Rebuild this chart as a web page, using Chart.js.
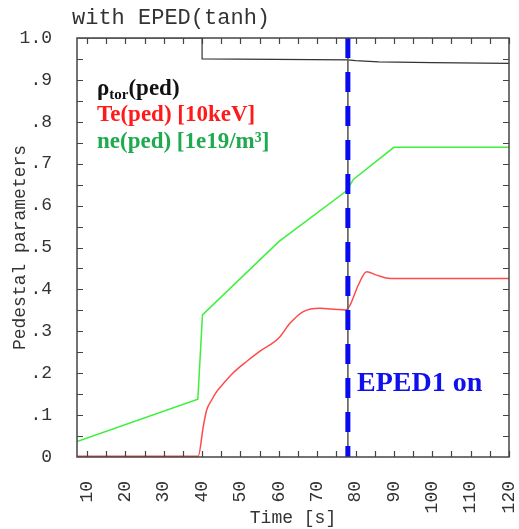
<!DOCTYPE html>
<html>
<head>
<meta charset="utf-8">
<script src="https://cdn.jsdelivr.net/npm/chart.js@4.4.0/dist/chart.umd.min.js"></script>
<style>
  html, body { margin: 0; padding: 0; background: #fff; }
  #wrap { width: 519px; height: 529px; }
</style>
</head>
<body>
<div id="wrap"><canvas id="chart" width="519" height="529"></canvas></div>
<script>
// values
const rhoTime = [7.4, 40, 40, 78, 80, 86, 100, 120];
const rhoVal  = [1.0, 1.0, 0.95, 0.948, 0.946, 0.943, 0.941, 0.9395];

const neTime = [7.4, 38.9, 40.1, 60, 77.5, 79.5, 90, 120];
const neVal  = [0.037, 0.138, 0.339, 0.514, 0.634, 0.663, 0.739, 0.739];

const teTime = [7.4, 39, 40.3, 41.2, 42.5, 43.8, 46, 48, 51.6, 55, 60, 62.9, 66.4, 70.7, 75.1, 77.5, 78.6, 80.7, 82.9, 85.5, 89, 120];
const teVal  = [0.002, 0.002, 0.072, 0.112, 0.136, 0.156, 0.18, 0.2, 0.228, 0.252, 0.284, 0.319, 0.347, 0.355, 0.352, 0.351, 0.363, 0.41, 0.442, 0.434, 0.426, 0.426];

const epedTime = 78;
const xTicks = [10, 20, 30, 40, 50, 60, 70, 80, 90, 100, 110, 120];
const yTicks = [0, 0.1, 0.2, 0.3, 0.4, 0.5, 0.6, 0.7, 0.8, 0.9, 1.0];

const pts = (xs, ys) => xs.map((x, i) => ({ x: x, y: ys[i] }));

const AXIS = '#444';
const MONO = '"Liberation Mono", "DejaVu Sans Mono", monospace';
const SERIF = '"Liberation Serif", "DejaVu Serif", serif';

// inward ticks on all four sides plus the frame
const frameTicks = {
    id: 'frameTicks',
    afterDraw(chart) {
        const { ctx, chartArea: a, scales: { x, y } } = chart;
        ctx.save();
        ctx.strokeStyle = AXIS;
        ctx.lineWidth = 1.5;
        ctx.strokeRect(a.left, a.top, a.right - a.left, a.bottom - a.top);
        ctx.lineWidth = 1.2;
        ctx.beginPath();
        for (let v = 10; v <= 120; v += 5) {
            const px = Math.round(x.getPixelForValue(v)) + 0.5;
            ctx.moveTo(px, a.bottom); ctx.lineTo(px, a.bottom - 6);
            ctx.moveTo(px, a.top); ctx.lineTo(px, a.top + 6);
        }
        for (let k = 1; k < 20; k++) {
            const py = Math.round(y.getPixelForValue(k * 0.05)) + 0.5;
            ctx.moveTo(a.left, py); ctx.lineTo(a.left + 6, py);
            ctx.moveTo(a.right, py); ctx.lineTo(a.right - 6, py);
        }
        ctx.stroke();
        ctx.restore();
    }
};

// title, legend text, annotation
const labels = {
    id: 'labels',
    afterDraw(chart) {
        const ctx = chart.ctx;
        ctx.save();
        ctx.textBaseline = 'middle';
        ctx.textAlign = 'left';
        ctx.fillStyle = '#333';
        ctx.font = '22px ' + MONO;
        ctx.fillText('with EPED(tanh)', 72, 18);

        ctx.textBaseline = 'alphabetic';
        ctx.font = 'bold 23px ' + SERIF;
        ctx.fillStyle = '#111';
        let px = 97;
        ctx.fillText('ρ', px, 95);
        px += ctx.measureText('ρ').width;
        ctx.font = 'bold 15px ' + SERIF;
        ctx.fillText('tor', px, 99);
        px += ctx.measureText('tor').width;
        ctx.font = 'bold 23px ' + SERIF;
        ctx.fillText('(ped)', px, 95);

        ctx.fillStyle = '#ff1a1a';
        ctx.fillText('Te(ped) [10keV]', 97, 121);

        ctx.fillStyle = '#1faa4f';
        ctx.fillText('ne(ped) [1e19/m³]', 97, 148);

        ctx.fillStyle = '#1010ee';
        ctx.font = 'bold 28px ' + SERIF;
        ctx.fillText('EPED1 on', 357, 391);
        ctx.restore();
    }
};

new Chart(document.getElementById('chart'), {
    type: 'line',
    data: {
        datasets: [
            {
                data: pts([epedTime, epedTime], [1, 0]),
                borderColor: '#0a0aee', borderWidth: 5, borderDash: [20, 14],
                pointRadius: 0, order: 0
            },
            {
                data: pts([epedTime, epedTime], [1, 0]),
                borderColor: '#666', borderWidth: 1,
                pointRadius: 0, order: 1
            },
            {
                data: pts(rhoTime, rhoVal),
                borderColor: '#333', borderWidth: 1.2,
                pointRadius: 0, order: 2
            },
            {
                data: pts(teTime, teVal),
                borderColor: '#ff4a4a', borderWidth: 1.5,
                cubicInterpolationMode: 'monotone',
                pointRadius: 0, order: 3
            },
            {
                data: pts(neTime, neVal),
                borderColor: '#3cf03c', borderWidth: 1.5,
                pointRadius: 0, order: 4
            }
        ]
    },
    options: {
        responsive: false,
        animation: false,
        layout: { padding: { top: 38, right: 10, left: 0, bottom: 0 } },
        plugins: { legend: { display: false }, tooltip: { enabled: false } },
        scales: {
            x: {
                type: 'linear', min: 7.4, max: 120,
                grid: { display: false },
                border: { display: false },
                afterBuildTicks: (s) => { s.ticks = xTicks.map(v => ({ value: v })); },
                afterFit: (s) => { s.height = 72; s.paddingLeft = 0; s.paddingRight = 0; },
                ticks: {
                    minRotation: 90, maxRotation: 90, padding: 16,
                    color: '#333', font: { family: MONO, size: 18 }
                },
                title: {
                    display: true, text: 'Time [s]', color: '#333',
                    font: { family: MONO, size: 18 }, padding: { top: 0, bottom: 0 }
                }
            },
            y: {
                min: 0, max: 1,
                grid: { display: false },
                border: { display: false },
                afterBuildTicks: (s) => { s.ticks = yTicks.map(v => ({ value: v })); },
                afterFit: (s) => { s.width = 77; s.paddingTop = 0; s.paddingBottom = 0; },
                ticks: {
                    padding: 17, color: '#333', font: { family: MONO, size: 18 },
                    callback: (v) => {
                        const r = Math.round(v * 10);
                        if (r === 0) return '0';
                        if (r === 10) return '1.0';
                        return '.' + r;
                    }
                },
                title: {
                    display: true, text: 'Pedestal parameters', color: '#333',
                    font: { family: MONO, size: 18 }, padding: { top: 9, bottom: 0 }
                }
            }
        }
    },
    plugins: [frameTicks, labels]
});
</script>
</body>
</html>
